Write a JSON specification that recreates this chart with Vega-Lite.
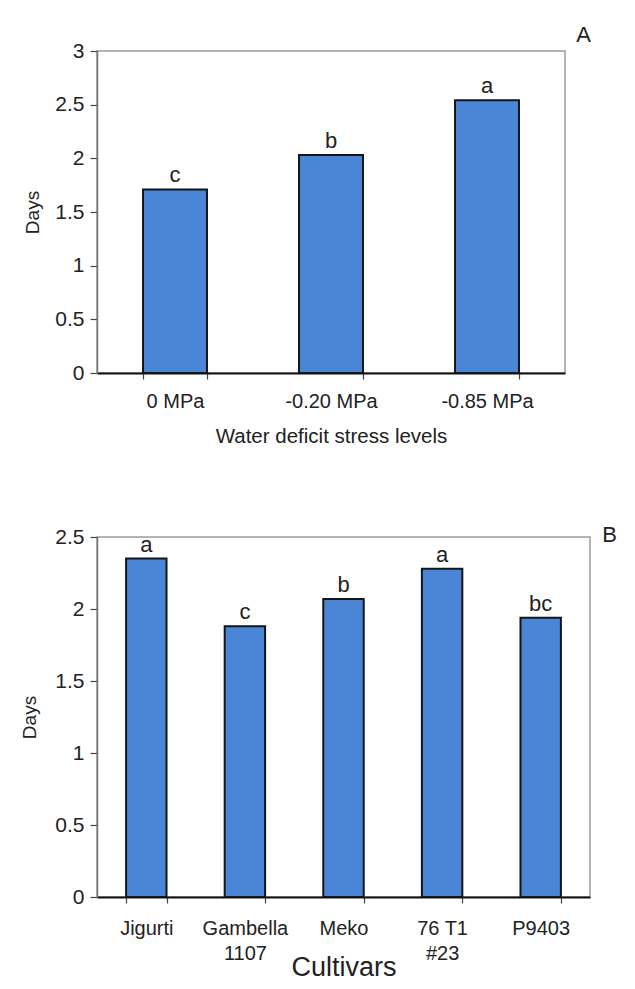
{
  "$schema": "https://vega.github.io/schema/vega-lite/v6.json",
  "background": "white",
  "padding": {"left": 20, "top": 23, "right": 5, "bottom": 5},
  "spacing": 75,
  "config": {
    "font": "Liberation Sans",
    "view": {"stroke": "#9c9c9c", "strokeWidth": 1.5},
    "axis": {
      "labelColor": "#222222",
      "titleColor": "#222222",
      "titleFontWeight": "normal",
      "grid": false,
      "tickColor": "#444444",
      "tickSize": 6,
      "tickWidth": 1.2
    },
    "title": {"fontWeight": "normal", "color": "#222222"}
  },
  "datasets": {
    "stress": [
      {"level": "0 MPa", "days": 1.71, "letter": "c"},
      {"level": "-0.20 MPa", "days": 2.03, "letter": "b"},
      {"level": "-0.85 MPa", "days": 2.54, "letter": "a"}
    ],
    "cultivars": [
      {"cultivar": "Jigurti", "days": 2.35, "letter": "a"},
      {"cultivar": "Gambella\n1107", "days": 1.88, "letter": "c"},
      {"cultivar": "Meko", "days": 2.07, "letter": "b"},
      {"cultivar": "76 T1\n#23", "days": 2.28, "letter": "a"},
      {"cultivar": "P9403", "days": 1.94, "letter": "bc"}
    ]
  },
  "vconcat": [
    {
      "width": 468,
      "height": 322,
      "title": {"text": "A", "anchor": "end", "dx": 26, "fontSize": 22, "offset": -7},
      "data": {"name": "stress"},
      "encoding": {
        "x": {
          "field": "level",
          "type": "nominal",
          "sort": null,
          "scale": {"paddingInner": 0.59, "paddingOuter": 0.295},
          "axis": {
            "title": "Water deficit stress levels",
            "titleFontSize": 20.5,
            "titlePadding": 15,
            "labelAngle": 0,
            "labelFontSize": 20,
            "labelPadding": 12,
            "tickBand": "extent",
            "domainColor": "#111111",
            "domainWidth": 2
          }
        },
        "y": {
          "field": "days",
          "type": "quantitative",
          "scale": {"domain": [0, 3]},
          "axis": {
            "title": "Days",
            "titleFontSize": 19,
            "titlePadding": 12,
            "values": [0, 0.5, 1, 1.5, 2, 2.5, 3],
            "format": "~g",
            "labelFontSize": 21,
            "labelPadding": 6,
            "tickSize": 7,
            "domainColor": "#777777",
            "domainWidth": 1.5
          }
        }
      },
      "layer": [
        {"mark": {"type": "bar", "fill": "#4b86d6", "stroke": "#151515", "strokeWidth": 2}},
        {
          "mark": {"type": "text", "baseline": "alphabetic", "dy": -7, "fontSize": 22, "color": "#222222"},
          "encoding": {"text": {"field": "letter"}}
        }
      ]
    },
    {
      "width": 493,
      "height": 360,
      "title": {"text": "B", "anchor": "end", "dx": 27, "dy": 21, "fontSize": 22, "offset": 0},
      "data": {"name": "cultivars"},
      "encoding": {
        "x": {
          "field": "cultivar",
          "type": "nominal",
          "sort": null,
          "scale": {"paddingInner": 0.59, "paddingOuter": 0.295},
          "axis": {
            "title": "Cultivars",
            "titleFontSize": 27,
            "titlePadding": -9,
            "labelAngle": 0,
            "labelFontSize": 20,
            "labelPadding": 15,
            "labelLineHeight": 25,
            "labelExpr": "split(datum.label, '\\n')",
            "tickBand": "extent",
            "domainColor": "#111111",
            "domainWidth": 2
          }
        },
        "y": {
          "field": "days",
          "type": "quantitative",
          "scale": {"domain": [0, 2.5]},
          "axis": {
            "title": "Days",
            "titleFontSize": 19,
            "titlePadding": 15,
            "values": [0, 0.5, 1, 1.5, 2, 2.5],
            "format": "~g",
            "labelFontSize": 21,
            "labelPadding": 6,
            "tickSize": 7,
            "domainColor": "#777777",
            "domainWidth": 1.5
          }
        }
      },
      "layer": [
        {"mark": {"type": "bar", "fill": "#4b86d6", "stroke": "#151515", "strokeWidth": 2}},
        {
          "mark": {"type": "text", "baseline": "alphabetic", "dy": -7, "fontSize": 22, "color": "#222222"},
          "encoding": {"text": {"field": "letter"}}
        }
      ]
    }
  ]
}
